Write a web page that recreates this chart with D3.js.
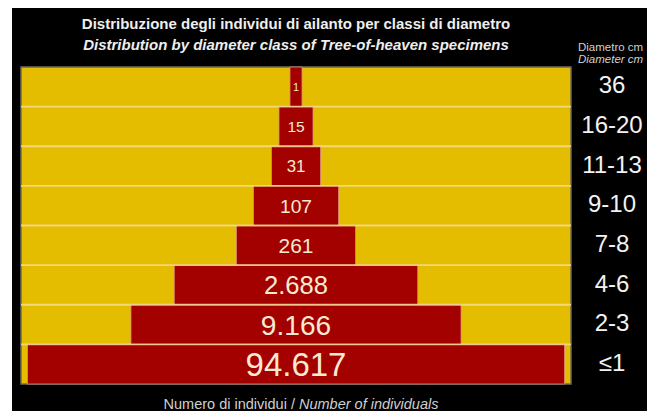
<!DOCTYPE html>
<html>
<head>
<meta charset="utf-8">
<script src="https://cdn.jsdelivr.net/npm/d3@7"></script>
<style>
  html, body { margin: 0; padding: 0; background: #fff; }
  svg { display: block; }
  text { font-family: "Liberation Sans", Arial, Helvetica, sans-serif; }
</style>
</head>
<body>
<svg id="chart" width="647" height="411"></svg>
<script>
// Diameter classes (cm), from the largest trees at the top to the smallest at the bottom
const classes = ["36", "16-20", "11-13", "9-10", "7-8", "4-6", "2-3", "\u22641"];
// Number of individuals in each class
const counts = [1, 15, 31, 107, 261, 2688, 9166, 94617];
// Printed value labels (Italian thousands separator)
const countLabels = ["1", "15", "31", "107", "261", "2.688", "9.166", "94.617"];

const titleIt = "Distribuzione degli individui di ailanto per classi di diametro";
const titleEn = "Distribution by diameter class of Tree-of-heaven specimens";
const axisIt = "Numero di individui / ";
const axisEn = "Number of individuals";
const headIt = "Diametro cm";
const headEn = "Diameter cm";

const W = 647, H = 411;
const plot = { left: 21, right: 571, top: 67, bottom: 384 };
const cx = (plot.left + plot.right) / 2;

const svg = d3.select("#chart");

// black panel with a thin white margin on the left and top
svg.append("rect").attr("x", 12).attr("y", 8).attr("width", W - 12).attr("height", H - 8).attr("fill", "#000");

// one row per diameter class
const y = d3.scaleBand().domain(classes).range([plot.top, plot.bottom]).padding(0);

// bar width: log of the count, then a power curve to widen the pyramid
const logS = d3.scaleLog().domain([1, d3.max(counts)]).range([0, 1]);
const widthS = d3.scalePow().exponent(2.2).domain([0, 1]).range([12, 537]);

const data = classes.map((c, i) => ({ cls: c, n: counts[i], label: countLabels[i] }));

// yellow background of the plot
svg.append("rect")
  .attr("x", plot.left).attr("y", plot.top)
  .attr("width", plot.right - plot.left).attr("height", plot.bottom - plot.top)
  .attr("fill", "#e5bd00")
  .attr("stroke", "#6d6a5a").attr("stroke-width", 1.5);

// centred red bars
svg.append("g").selectAll("rect").data(data).join("rect")
  .attr("x", d => cx - widthS(logS(d.n)) / 2)
  .attr("y", d => y(d.cls))
  .attr("width", d => widthS(logS(d.n)))
  .attr("height", y.bandwidth())
  .attr("fill", "#a30000")
  .attr("stroke", "#d98a7a").attr("stroke-width", 0.8);

// light separators between rows
svg.append("g").selectAll("line").data(classes.slice(1)).join("line")
  .attr("x1", plot.left).attr("x2", plot.right)
  .attr("y1", d => y(d)).attr("y2", d => y(d))
  .attr("stroke", "#f6df95").attr("stroke-opacity", 0.8).attr("stroke-width", 1.8);

// count labels inside the bars, growing with the row
const labelSize = d3.scaleLinear().domain([0, 1]).range([11, 33]);
svg.append("g").selectAll("text").data(data).join("text")
  .attr("x", cx)
  .attr("y", d => y(d.cls) + y.bandwidth() / 2)
  .attr("dy", "0.36em")
  .attr("text-anchor", "middle")
  .attr("fill", "#f8ead2")
  .attr("font-size", d => labelSize(Math.pow(logS(d.n), 1.1)))
  .text(d => d.label);

// diameter class labels on the right
svg.append("g").selectAll("text").data(classes).join("text")
  .attr("x", 612)
  .attr("y", d => y(d) + y.bandwidth() / 2 - 2)
  .attr("dy", "0.36em")
  .attr("text-anchor", "middle")
  .attr("fill", "#f2f2f2")
  .attr("font-size", 24)
  .text(d => d);

// column header for the class labels
svg.append("text").attr("x", 578).attr("y", 51)
  .attr("fill", "#cfcfcf").attr("font-size", 11.5).text(headIt);
svg.append("text").attr("x", 578).attr("y", 63)
  .attr("fill", "#cfcfcf").attr("font-size", 11.5).attr("font-style", "italic").text(headEn);

// two-line title
svg.append("text").attr("x", cx).attr("y", 29).attr("text-anchor", "middle")
  .attr("fill", "#eeeeee").attr("font-size", 15).attr("font-weight", "bold").text(titleIt);
svg.append("text").attr("x", cx).attr("y", 50).attr("text-anchor", "middle")
  .attr("fill", "#eeeeee").attr("font-size", 15).attr("font-weight", "bold").attr("font-style", "italic").text(titleEn);

// axis caption under the plot
const cap = svg.append("text").attr("x", cx + 5).attr("y", 409).attr("text-anchor", "middle")
  .attr("fill", "#cfcfcf").attr("font-size", 14.5);
cap.append("tspan").text(axisIt);
cap.append("tspan").attr("font-style", "italic").text(axisEn);
</script>
</body>
</html>
